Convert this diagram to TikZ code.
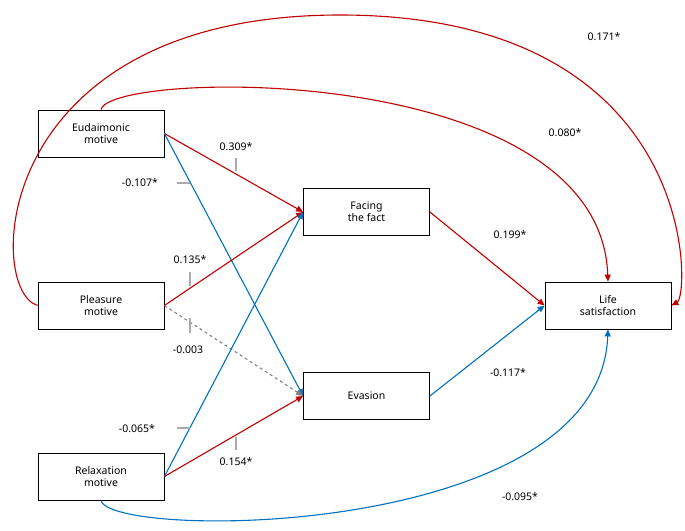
\documentclass[tikz,border=0pt]{standalone}
\usepackage{fontspec}
\setmainfont{Noto Sans}
\usetikzlibrary{arrows.meta}
\definecolor{pathred}{RGB}{192,0,0}
\definecolor{pathblue}{RGB}{0,112,192}
\definecolor{tickgray}{RGB}{170,170,170}
\begin{document}
\begin{tikzpicture}[x=1pt,y=-1pt,>={Triangle[length=7pt,width=6pt]},font=\fontsize{10.5}{12}\selectfont]
        % Define block styles
        \tikzset{block/.style={rectangle, draw, thick, minimum width=126pt, minimum height=47pt, align=center, inner sep=1pt}}
        \tikzset{red line/.style={draw=pathred, line width=1.1pt, ->, color=pathred}}
        \tikzset{blue line/.style={draw=pathblue, line width=1.1pt, ->, color=pathblue}}
        \tikzset{tick/.style={draw=tickgray, line width=1.4pt}}
        \useasboundingbox (0,0) rectangle (685,530);

        % Nodes
        \node [block] (eudaimonic) at (101,133.5) {Eudaimonic\\motive};
        \node [block] (pleasure) at (101,305.5) {Pleasure\\motive};
        \node [block] (relaxation) at (101,476.5) {Relaxation\\motive};
        \node [block] (facing) at (366.5,212) {Facing\\the fact};
        \node [block] (evasion) at (366.5,396) {Evasion};
        \node [block] (life) at (608,305.5) {Life\\satisfaction};

        % Arrows
        \path [red line] (eudaimonic.east) -- (facing.west);
        \path [blue line] (eudaimonic.east) -- (evasion.west);
        \path [red line] (pleasure.east) -- (facing.west);
        \draw [dashed, gray, line width=1.1pt, ->] (pleasure.east) -- (evasion.west);
        \path [blue line] (relaxation.east) -- (facing.west);
        \path [red line] (relaxation.east) -- (evasion.west);
        \path [red line] (facing.east) -- (life.west);
        \path [blue line] (evasion.east) -- (life.west);
        \path [red line] (pleasure.west) .. controls (-15,290) and (-10,15) .. (340,15) .. controls (700,15) and (690,295) .. (life.east);
        \path [red line] (eudaimonic.north) .. controls (110,70) and (600,60) .. (life.north);
        \path [blue line] (relaxation.south) .. controls (110,540) and (600,540) .. (life.south);

        % Labels
        \node (l1) at (236,147) {0.309*};
        \node (l2) at (140,183) {-0.107*};
        \node (l3) at (190,260) {0.135*};
        \node (l4) at (188,350) {-0.003};
        \node (l5) at (137,429) {-0.065*};
        \node (l6) at (236,462) {0.154*};
        \node (l7) at (510,235) {0.199*};
        \node (l8) at (508,373) {-0.117*};
        \node (l9) at (604,37) {0.171*};
        \node (l10) at (565,133) {0.080*};
        \node (l11) at (520,497) {-0.095*};

        % Ticks
        \draw [tick] (236,158) -- (236,171);
        \draw [tick] (177,183) -- (190,183);
        \draw [tick] (190,272) -- (190,286);
        \draw [tick] (190,318) -- (190,333);
        \draw [tick] (177,428) -- (190,428);
        \draw [tick] (236,437) -- (236,450);
\end{tikzpicture}
\end{document}
